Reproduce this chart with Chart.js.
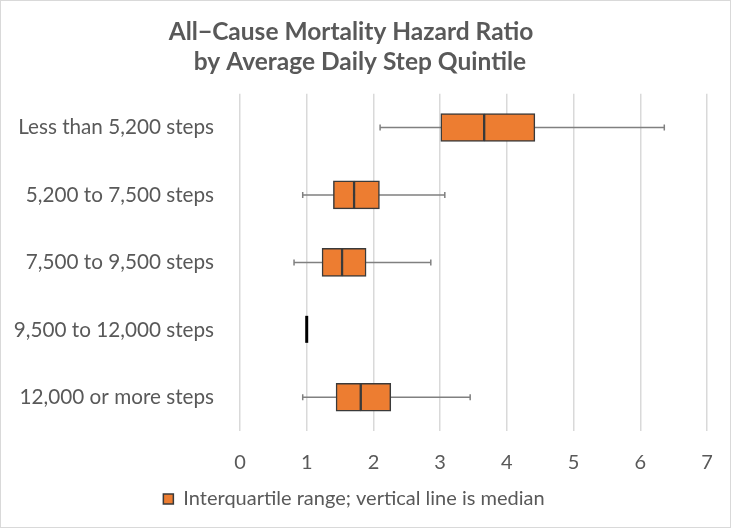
<!DOCTYPE html>
<html>
<head>
<meta charset="utf-8">
<script src="https://cdn.jsdelivr.net/npm/chart.js@4"></script>
<style>
  body { margin: 0; background: #fff; }
  #wrap { width: 731px; height: 528px; box-sizing: border-box; border: 1px solid #d9d9d9; }
</style>
</head>
<body>
<div id="wrap"><canvas id="chart" width="729" height="526"></canvas></div>
<script>
const categories = ['Less than 5,200 steps', '5,200 to 7,500 steps', '7,500 to 9,500 steps', '9,500 to 12,000 steps', '12,000 or more steps'];
const whiskerLow = [2.10, 0.94, 0.81, null, 0.94];
const quartile1 = [3.01, 1.40, 1.23, null, 1.44];
const medians = [3.66, 1.71, 1.53, 1.00, 1.81];
const quartile3 = [4.42, 2.09, 1.89, null, 2.26];
const whiskerHigh = [6.36, 3.07, 2.86, null, 3.45];
const xTicks = [0, 1, 2, 3, 4, 5, 6, 7];

const textGrey = '#595959';
const orange = '#ED7D31';
const boxEdge = '#3a3a3a';

// whiskers + the reference line (row without a box) drawn behind the boxes
const whiskerPlugin = {
    id: 'whiskers',
    beforeDatasetsDraw(chart) {
        const ctx = chart.ctx;
        const xs = chart.scales.x;
        const ys = chart.scales.y;
        ctx.save();
        for (let i = 0; i < categories.length; i++) {
            const y = ys.getPixelForValue(i);
            if (whiskerLow[i] == null) {
                // reference category: just a thick line at the median
                const x = xs.getPixelForValue(medians[i]);
                ctx.strokeStyle = '#000';
                ctx.lineWidth = 3;
                ctx.beginPath();
                ctx.moveTo(x, y - 14);
                ctx.lineTo(x, y + 13);
                ctx.stroke();
                continue;
            }
            const x1 = xs.getPixelForValue(whiskerLow[i]);
            const x2 = xs.getPixelForValue(whiskerHigh[i]);
            ctx.strokeStyle = '#808080';
            ctx.lineWidth = 1.5;
            ctx.beginPath();
            ctx.moveTo(x1, y);
            ctx.lineTo(x2, y);
            ctx.moveTo(x1, y - 3);
            ctx.lineTo(x1, y + 3);
            ctx.moveTo(x2, y - 3);
            ctx.lineTo(x2, y + 3);
            ctx.stroke();
        }
        ctx.restore();
    }
};

const lowerHalf = quartile1.map((q, i) => q == null ? null : [q, medians[i]]);
const upperHalf = quartile3.map((q, i) => q == null ? null : [medians[i], q]);

function drawChart() {
    new Chart(document.getElementById('chart'), {
        type: 'bar',
        data: {
            labels: categories,
            datasets: [
                {
                    label: 'Interquartile range; vertical line is median',
                    data: lowerHalf,
                    backgroundColor: orange,
                    borderColor: boxEdge,
                    borderWidth: 1.5,
                    borderSkipped: false,
                    barThickness: 28,
                    grouped: false
                },
                {
                    label: 'upper',
                    data: upperHalf,
                    backgroundColor: orange,
                    borderColor: boxEdge,
                    borderWidth: 1.5,
                    borderSkipped: false,
                    barThickness: 28,
                    grouped: false
                }
            ]
        },
        options: {
            indexAxis: 'y',
            responsive: false,
            animation: false,
            layout: { padding: { left: 0, right: 23, top: 6, bottom: 8 } },
            plugins: {
                title: {
                    display: true,
                    // spaces nudge the two lines the way the original sits
                    text: ['All\u2212Cause Mortality Hazard Ratio ', '  by Average Daily Step Quintile'],
                    color: textGrey,
                    font: { family: 'Lato', size: 24.5, weight: 'bold', lineHeight: 1.24 },
                    padding: { top: 10, bottom: 16 }
                },
                legend: {
                    position: 'bottom',
                    labels: {
                        filter: item => item.datasetIndex === 0,
                        color: textGrey,
                        font: { family: 'Lato', size: 20 },
                        boxWidth: 10,
                        boxHeight: 10,
                        padding: 2
                    }
                },
                tooltip: { enabled: false }
            },
            scales: {
                x: {
                    min: 0,
                    max: 7,
                    afterBuildTicks: axis => { axis.ticks = xTicks.map(v => ({ value: v })); },
                    afterFit: axis => {
                        axis.height = 56;
                        // keep the plot edges fixed, labels may hang over
                        axis.paddingLeft = 0;
                        axis.paddingRight = 0;
                    },
                    ticks: { color: textGrey, font: { family: 'Lato', size: 20 }, padding: 20 },
                    grid: { color: '#d9d9d9', lineWidth: 1.5, drawTicks: false },
                    border: { display: false }
                },
                y: {
                    afterFit: axis => { axis.width = 239; },
                    ticks: { color: textGrey, font: { family: 'Lato', size: 20.7 }, padding: 26 },
                    grid: { display: false, drawTicks: false },
                    border: { display: false }
                }
            }
        },
        plugins: [whiskerPlugin]
    });
}

// make sure Lato is ready before Chart.js measures the labels
Promise.all([
    document.fonts.load('20px Lato'),
    document.fonts.load('bold 24.5px Lato')
]).then(drawChart, drawChart);
</script>
</body>
</html>
